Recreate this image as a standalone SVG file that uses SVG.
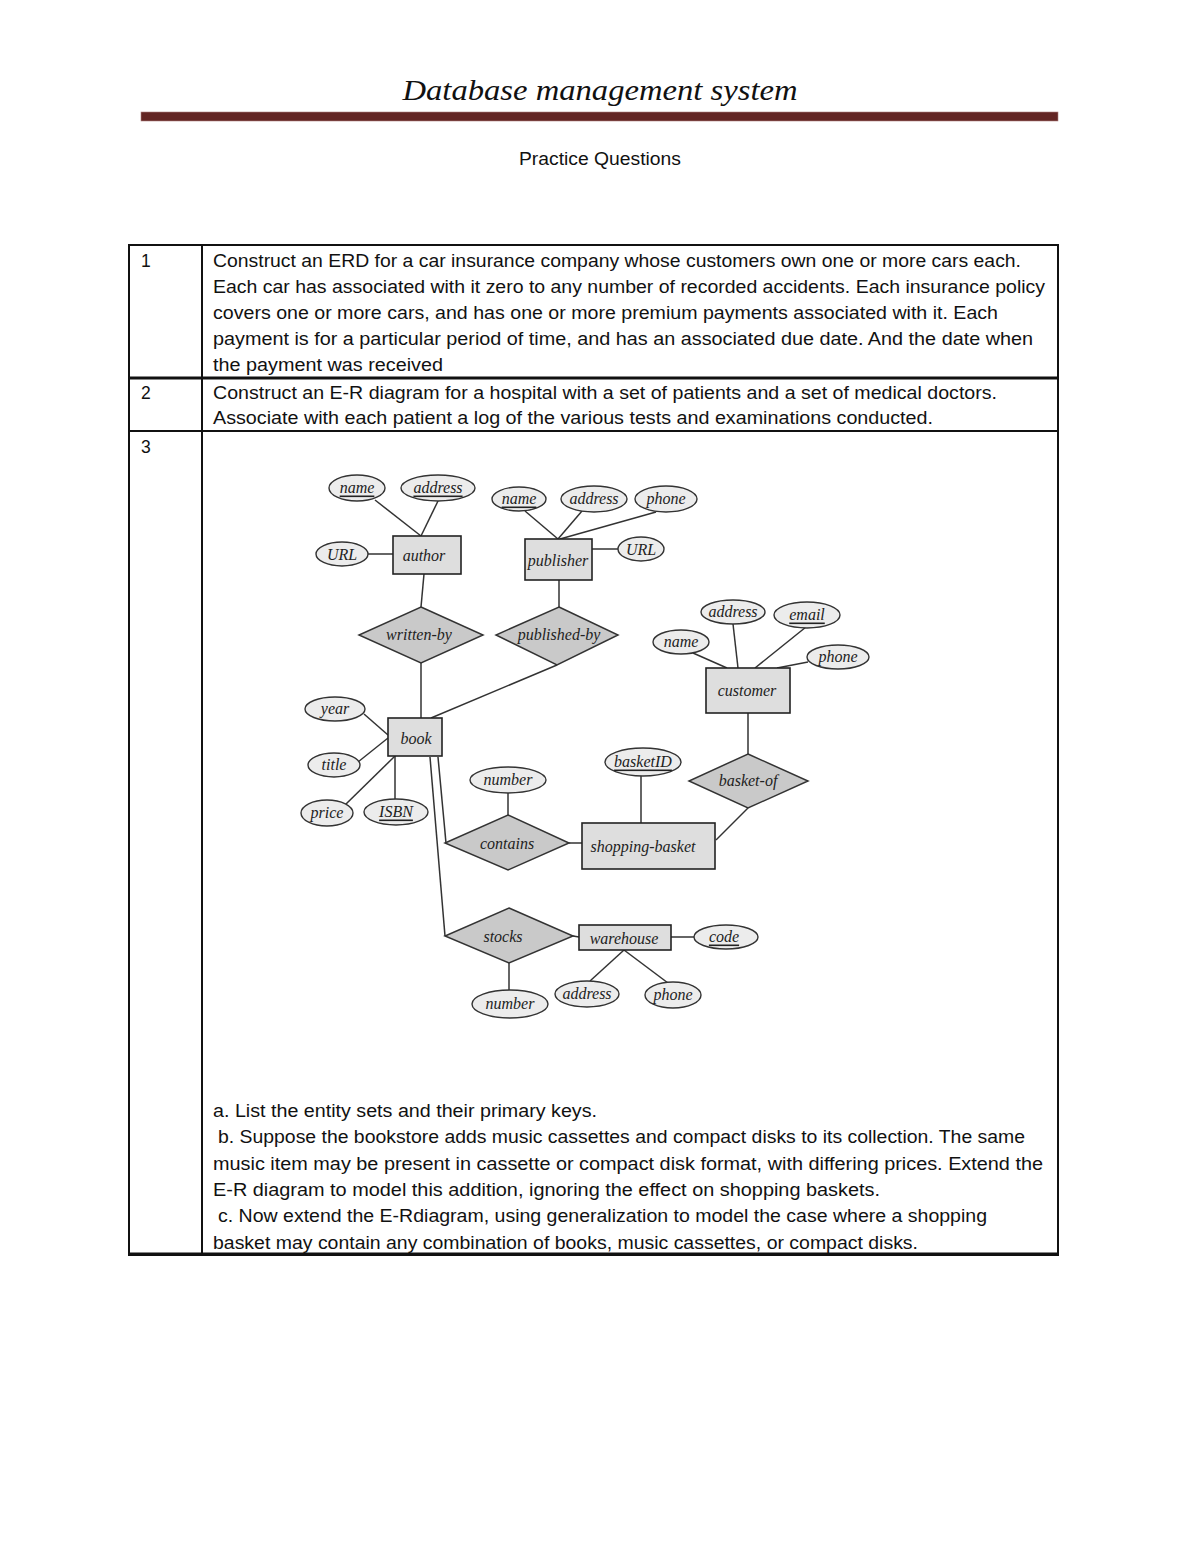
<svg xmlns="http://www.w3.org/2000/svg" width="1200" height="1553" viewBox="0 0 1200 1553">
<style>
.bg{fill:#ffffff}
.title{font-family:"Liberation Serif",serif;font-style:italic;font-size:30px;fill:#111}
.body{font-family:"Liberation Sans",sans-serif;font-size:17.5px;fill:#111}
.tbl{stroke:#111;stroke-width:2;fill:none}
.ent{fill:#dedede;stroke:#222;stroke-width:1.6}
.rel{fill:#c9c9c9;stroke:#333;stroke-width:1.5}
.att{fill:#ececec;stroke:#333;stroke-width:1.4}
.lbl{font-family:"Liberation Serif",serif;font-style:italic;font-size:16px;fill:#222;text-anchor:middle;dominant-baseline:central}
.ul{text-decoration:underline}
.cn{stroke:#333;stroke-width:1.5;fill:none}
</style>
<rect class="bg" x="0" y="0" width="1200" height="1553"/>
<text class="title" x="600" y="100" text-anchor="middle" textLength="395" lengthAdjust="spacingAndGlyphs">Database management system</text>
<rect x="141" y="112" width="917" height="9" fill="#632523" stroke="#b08080" stroke-width="0.6"/>
<text class="body" x="519" y="165" textLength="162" lengthAdjust="spacingAndGlyphs">Practice Questions</text>

<g id="table">
<rect class="tbl" x="129" y="245" width="929" height="1010"/>
<line class="tbl" x1="202" y1="245" x2="202" y2="1255"/>
<line class="tbl" x1="129" y1="378" x2="1058" y2="378" style="stroke-width:3"/>
<line class="tbl" x1="129" y1="431" x2="1058" y2="431"/>
<line class="tbl" x1="129" y1="1254" x2="1058" y2="1254" style="stroke-width:3"/>
<text class="body" x="141" y="267">1</text>
<text class="body" x="141" y="399">2</text>
<text class="body" x="141" y="453">3</text>
<text class="body" x="213" y="267" textLength="808" lengthAdjust="spacingAndGlyphs">Construct an ERD for a car insurance company whose customers own one or more cars each.</text>
<text class="body" x="213" y="293" textLength="832" lengthAdjust="spacingAndGlyphs">Each car has associated with it zero to any number of recorded accidents. Each insurance policy</text>
<text class="body" x="213" y="319" textLength="785" lengthAdjust="spacingAndGlyphs">covers one or more cars, and has one or more premium payments associated with it. Each</text>
<text class="body" x="213" y="345" textLength="820" lengthAdjust="spacingAndGlyphs">payment is for a particular period of time, and has an associated due date. And the date when</text>
<text class="body" x="213" y="371" textLength="230" lengthAdjust="spacingAndGlyphs">the payment was received</text>
<text class="body" x="213" y="399" textLength="784" lengthAdjust="spacingAndGlyphs">Construct an E-R diagram for a hospital with a set of patients and a set of medical doctors.</text>
<text class="body" x="213" y="424" textLength="720" lengthAdjust="spacingAndGlyphs">Associate with each patient a log of the various tests and examinations conducted.</text>
<text class="body" x="213" y="1117" textLength="384" lengthAdjust="spacingAndGlyphs">a. List the entity sets and their primary keys.</text>
<text class="body" x="218" y="1143" textLength="807" lengthAdjust="spacingAndGlyphs">b. Suppose the bookstore adds music cassettes and compact disks to its collection. The same</text>
<text class="body" x="213" y="1170" textLength="830" lengthAdjust="spacingAndGlyphs">music item may be present in cassette or compact disk format, with differing prices. Extend the</text>
<text class="body" x="213" y="1196" textLength="667" lengthAdjust="spacingAndGlyphs">E-R diagram to model this addition, ignoring the effect  on shopping baskets.</text>
<text class="body" x="218" y="1222" textLength="769" lengthAdjust="spacingAndGlyphs">c. Now extend the E-Rdiagram, using generalization to model the case where a shopping</text>
<text class="body" x="213" y="1249" textLength="705" lengthAdjust="spacingAndGlyphs">basket may contain any combination of books, music cassettes, or compact disks.</text>
</g>

<g id="connectors">
<line class="cn" x1="375" y1="500" x2="421" y2="536"/>
<line class="cn" x1="438" y1="501" x2="421" y2="536"/>
<line class="cn" x1="368" y1="554" x2="393" y2="554"/>
<line class="cn" x1="424" y1="574" x2="421" y2="607"/>
<line class="cn" x1="421" y1="663" x2="421" y2="718"/>
<line class="cn" x1="525" y1="511" x2="558" y2="539"/>
<line class="cn" x1="582" y1="511" x2="558" y2="539"/>
<line class="cn" x1="656" y1="512" x2="560" y2="539"/>
<line class="cn" x1="592" y1="549" x2="618" y2="549"/>
<line class="cn" x1="559" y1="580" x2="559" y2="607"/>
<line class="cn" x1="557" y1="665" x2="431" y2="718"/>
<line class="cn" x1="693" y1="653" x2="727" y2="668"/>
<line class="cn" x1="733" y1="624" x2="738" y2="668"/>
<line class="cn" x1="806" y1="627" x2="755" y2="668"/>
<line class="cn" x1="808" y1="662" x2="777" y2="668"/>
<line class="cn" x1="748" y1="713" x2="748" y2="754"/>
<line class="cn" x1="748" y1="808" x2="716" y2="840"/>
<line class="cn" x1="641" y1="776" x2="641" y2="823"/>
<line class="cn" x1="569" y1="843" x2="582" y2="843"/>
<line class="cn" x1="508" y1="793" x2="508" y2="815"/>
<line class="cn" x1="430" y1="757" x2="445" y2="936"/>
<line class="cn" x1="438" y1="757" x2="446" y2="843"/>
<line class="cn" x1="364" y1="714" x2="388" y2="735"/>
<line class="cn" x1="358" y1="762" x2="388" y2="738"/>
<line class="cn" x1="345" y1="805" x2="395" y2="756"/>
<line class="cn" x1="395" y1="756" x2="395" y2="799"/>
<line class="cn" x1="573" y1="936" x2="579" y2="937"/>
<line class="cn" x1="671" y1="937" x2="694" y2="937"/>
<line class="cn" x1="624" y1="950" x2="590" y2="981"/>
<line class="cn" x1="624" y1="950" x2="668" y2="983"/>
<line class="cn" x1="509" y1="963" x2="509" y2="990"/>
</g>

<g id="author"><rect class="ent" x="393" y="536" width="68" height="38"/><text class="lbl" x="424" y="555">author</text></g>
<g id="publisher"><rect class="ent" x="525" y="539" width="67" height="41"/><text class="lbl" x="558" y="560">publisher</text></g>
<g id="customer"><rect class="ent" x="706" y="668" width="84" height="45"/><text class="lbl" x="747" y="690">customer</text></g>
<g id="book"><rect class="ent" x="388" y="718" width="54" height="38"/><text class="lbl" x="416" y="738">book</text></g>
<g id="shopping-basket"><rect class="ent" x="582" y="823" width="133" height="46"/><text class="lbl" x="643" y="846">shopping-basket</text></g>
<g id="warehouse"><rect class="ent" x="579" y="925" width="92" height="25"/><text class="lbl" x="624" y="938">warehouse</text></g>

<g id="written-by"><polygon class="rel" points="421,607 483,635 421,663 359,635"/><text class="lbl" x="419" y="634">written-by</text></g>
<g id="published-by"><polygon class="rel" points="559,607 618,635 557,665 496,635"/><text class="lbl" x="559" y="634">published-by</text></g>
<g id="basket-of"><polygon class="rel" points="748,754 808,781 748,808 689,781"/><text class="lbl" x="748" y="780">basket-of</text></g>
<g id="contains"><polygon class="rel" points="508,815 569,843 508,870 445,843"/><text class="lbl" x="507" y="843">contains</text></g>
<g id="stocks"><polygon class="rel" points="509,908 573,936 509,963 445,936"/><text class="lbl" x="503" y="936">stocks</text></g>

<g id="author-name"><ellipse class="att" cx="357" cy="488" rx="28" ry="13"/><text class="lbl ul" x="357" y="487">name</text></g>
<g id="author-address"><ellipse class="att" cx="438" cy="488" rx="37" ry="13"/><text class="lbl ul" x="438" y="487">address</text></g>
<g id="author-url"><ellipse class="att" cx="342" cy="554" rx="26" ry="12"/><text class="lbl" x="342" y="554">URL</text></g>
<g id="publisher-name"><ellipse class="att" cx="519" cy="499" rx="27" ry="12"/><text class="lbl ul" x="519" y="498">name</text></g>
<g id="publisher-address"><ellipse class="att" cx="594" cy="499" rx="33" ry="13"/><text class="lbl" x="594" y="498">address</text></g>
<g id="publisher-phone"><ellipse class="att" cx="666" cy="499" rx="31" ry="13"/><text class="lbl" x="666" y="498">phone</text></g>
<g id="publisher-url"><ellipse class="att" cx="641" cy="549" rx="23" ry="12"/><text class="lbl" x="641" y="549">URL</text></g>
<g id="customer-address"><ellipse class="att" cx="733" cy="612" rx="32" ry="12"/><text class="lbl" x="733" y="611">address</text></g>
<g id="customer-email"><ellipse class="att" cx="807" cy="615" rx="33" ry="13"/><text class="lbl ul" x="807" y="614">email</text></g>
<g id="customer-name"><ellipse class="att" cx="681" cy="642" rx="28" ry="12"/><text class="lbl" x="681" y="641">name</text></g>
<g id="customer-phone"><ellipse class="att" cx="838" cy="657" rx="31" ry="12"/><text class="lbl" x="838" y="656">phone</text></g>
<g id="book-year"><ellipse class="att" cx="335" cy="709" rx="30" ry="12"/><text class="lbl" x="335" y="708">year</text></g>
<g id="book-title"><ellipse class="att" cx="334" cy="765" rx="26" ry="12"/><text class="lbl" x="334" y="764">title</text></g>
<g id="book-price"><ellipse class="att" cx="327" cy="813" rx="26" ry="13"/><text class="lbl" x="327" y="812">price</text></g>
<g id="book-isbn"><ellipse class="att" cx="396" cy="812" rx="32" ry="13"/><text class="lbl ul" x="396" y="811">ISBN</text></g>
<g id="contains-number"><ellipse class="att" cx="508" cy="780" rx="38" ry="13"/><text class="lbl" x="508" y="779">number</text></g>
<g id="basket-id"><ellipse class="att" cx="643" cy="762" rx="38" ry="14"/><text class="lbl ul" x="643" y="761">basketID</text></g>
<g id="warehouse-code"><ellipse class="att" cx="726" cy="937" rx="32" ry="12"/><text class="lbl ul" x="724" y="936">code</text></g>
<g id="warehouse-address"><ellipse class="att" cx="587" cy="994" rx="32" ry="13"/><text class="lbl" x="587" y="993">address</text></g>
<g id="warehouse-phone"><ellipse class="att" cx="673" cy="995" rx="28" ry="13"/><text class="lbl" x="673" y="994">phone</text></g>
<g id="stocks-number"><ellipse class="att" cx="510" cy="1004" rx="38" ry="14"/><text class="lbl" x="510" y="1003">number</text></g>
</svg>
